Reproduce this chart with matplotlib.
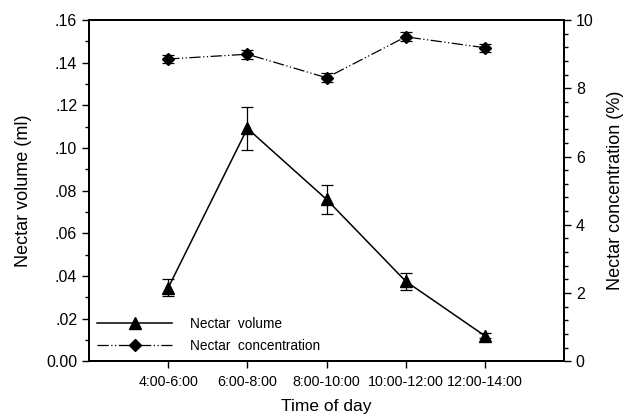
import matplotlib.pyplot as plt
from matplotlib.lines import Line2D
from matplotlib.ticker import FuncFormatter, MultipleLocator

plt.rcParams['font.family'] = ['Liberation Sans', 'DejaVu Sans']

periods = ['4:00-6:00', '6:00-8:00', '8:00-10:00', '10:00-12:00', '12:00-14:00']
volume = [0.0344, 0.1092, 0.0759, 0.0375, 0.0119]
volume_err = [0.0040, 0.0101, 0.0067, 0.0040, 0.0012]
conc = [8.86, 9.00, 8.31, 9.51, 9.19]
conc_err = [0.13, 0.13, 0.13, 0.13, 0.12]

conc_ls = (0, (9, 2, 1, 2, 1, 2))


def fmt_left(v, pos):
    if abs(v) < 1e-9:
        return '0.00'
    return ('%.2f' % v).lstrip('0')


def main():
    fig = plt.figure(figsize=(6.3, 4.19), dpi=100)
    ax = fig.add_axes([0.1413, 0.138, 0.7540, 0.814])
    ax2 = ax.twinx()
    x = list(range(1, len(periods) + 1))

    ax.errorbar(x, volume, volume_err, color='black', marker='^', ms=8,
                lw=1.1, capsize=4, elinewidth=0.9, capthick=0.9)
    ax2.errorbar(x, conc, conc_err, color='black', marker='D', ms=6,
                 lw=0.9, ls=conc_ls, capsize=4, elinewidth=0.9, capthick=0.9)

    ax.set_xlim(0, 6)
    ax.set_ylim(0, 0.16)
    ax2.set_ylim(0, 10)
    ax.set_xticks(x)
    ax.set_xticklabels(periods, fontsize=10.3)
    ax.yaxis.set_major_locator(MultipleLocator(0.02))
    ax.yaxis.set_minor_locator(MultipleLocator(0.01))
    ax.yaxis.set_major_formatter(FuncFormatter(fmt_left))
    ax2.yaxis.set_major_locator(MultipleLocator(2))
    ax2.yaxis.set_minor_locator(MultipleLocator(0.4))

    ax.tick_params(axis='x', length=5, width=1, pad=5)
    ax.tick_params(axis='y', which='major', length=5, width=1, labelsize=11.5)
    ax.tick_params(axis='y', which='minor', length=3, width=1)
    ax2.tick_params(axis='y', which='major', length=5, width=1, labelsize=11.5)
    ax2.tick_params(axis='y', which='minor', length=3, width=1)
    for a in (ax, ax2):
        for s in a.spines.values():
            s.set_linewidth(1.3)

    ax.set_xlabel('Time of day', fontsize=12.5, labelpad=7)
    ax.set_ylabel('Nectar volume (ml)', fontsize=13, labelpad=10)
    ax2.set_ylabel('Nectar concentration (%)', fontsize=13, labelpad=10)

    h1 = Line2D([], [], color='black', marker='^', ms=8, lw=1.1)
    h2 = Line2D([], [], color='black', marker='D', ms=6, lw=0.9, ls=conc_ls)
    ax2.legend([h1, h2], ['Nectar  volume', 'Nectar  concentration'],
               loc='lower left', frameon=False, fontsize=9.8,
               handlelength=5.5, borderaxespad=0.2, labelspacing=0.6,
               handletextpad=1.3)

    fig.savefig('out.png', dpi=100)


if __name__ == '__main__':
    main()
